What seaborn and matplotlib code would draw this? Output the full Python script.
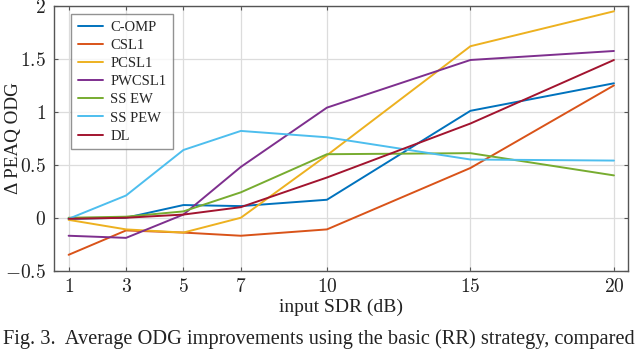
import numpy as np
import pandas as pd
import matplotlib
matplotlib.use("Agg")
import matplotlib.pyplot as plt
import seaborn as sns

sdr = [1, 3, 5, 7, 10, 15, 20]
methods = ["C-OMP", "CSL1", "PCSL1", "PWCSL1", "SS EW", "SS PEW", "DL"]
c_omp  = [-0.01, 0.00, 0.12, 0.11, 0.17, 1.01, 1.27]
csl1   = [-0.35, -0.12, -0.14, -0.17, -0.11, 0.47, 1.25]
pcsl1  = [-0.02, -0.11, -0.14, 0.00, 0.59, 1.62, 1.95]
pwcsl1 = [-0.17, -0.19, 0.03, 0.48, 1.04, 1.49, 1.575]
ss_ew  = [0.00, 0.01, 0.06, 0.24, 0.60, 0.61, 0.40]
ss_pew = [-0.01, 0.21, 0.64, 0.82, 0.76, 0.55, 0.54]
dl     = [-0.01, 0.00, 0.03, 0.10, 0.38, 0.89, 1.49]
series = [c_omp, csl1, pcsl1, pwcsl1, ss_ew, ss_pew, dl]
colors = ["#0072BD", "#D95319", "#EDB120", "#7E2F8E", "#77AC30", "#4DBEEE", "#A2142F"]
yticks = [-0.5, 0, 0.5, 1, 1.5, 2]
ytick_labels = ["$-0.5$", "$0$", "$0.5$", "$1$", "$1.5$", "$2$"]
xtick_labels = ["$1$", "$3$", "$5$", "$7$", "$10$", "$15$", "$20$"]

df = pd.DataFrame({
    "sdr": sdr * len(methods),
    "odg": sum(series, []),
    "method": sum([[m] * len(sdr) for m in methods], []),
})

sns.set_theme(style="white")
plt.rcParams["font.family"] = ["Liberation Serif", "DejaVu Serif"]
plt.rcParams["mathtext.fontset"] = "cm"

fig = plt.figure(figsize=(6.4, 3.5), dpi=100)
ax = fig.add_axes([0.0848, 0.2266, 0.8969, 0.7563])
sns.lineplot(data=df, x="sdr", y="odg", hue="method", hue_order=methods,
             palette=colors, linewidth=1.4, ax=ax, legend=True)

ax.set_xlim(0.5, 20.5)
ax.set_ylim(-0.5, 2)
ax.set_xticks(sdr)
ax.set_xticklabels(xtick_labels)
ax.set_yticks(yticks)
ax.set_yticklabels(ytick_labels)
ax.grid(True, color="#dcdcdc", linewidth=0.9)
ax.set_axisbelow(True)
for s in ax.spines.values():
    s.set_color("#555555")
    s.set_linewidth(1.0)
ax.tick_params(axis="both", direction="in", length=3, width=0.8, colors="#555555",
               labelcolor="#222222", labelsize=14, top=True, right=True,
               bottom=True, left=True)
ax.tick_params(axis="y", pad=6)
ax.tick_params(axis="x", pad=5)
ax.set_xlabel("input SDR (dB)", fontsize=14, color="#222222", labelpad=2)
ax.set_ylabel("\u0394 PEAQ ODG", fontsize=13.8, color="#222222", va="center")
ax.yaxis.set_label_coords(-0.071, 0.5)

leg = ax.legend(loc="upper left", bbox_to_anchor=(0.030, 0.970), borderaxespad=0,
                fontsize=10.5, frameon=True, fancybox=False, edgecolor="#777777",
                handlelength=1.7, handletextpad=0.5, labelspacing=0.34,
                borderpad=0.45, title=None)
leg.get_frame().set_linewidth(1.0)

fig.text(0.004, 0.017, "Fig. 3.  Average ODG improvements using the basic (RR) strategy, compared",
         fontsize=14.7, color="#222222", ha="left", va="baseline")

fig.savefig("out.png", dpi=100)
